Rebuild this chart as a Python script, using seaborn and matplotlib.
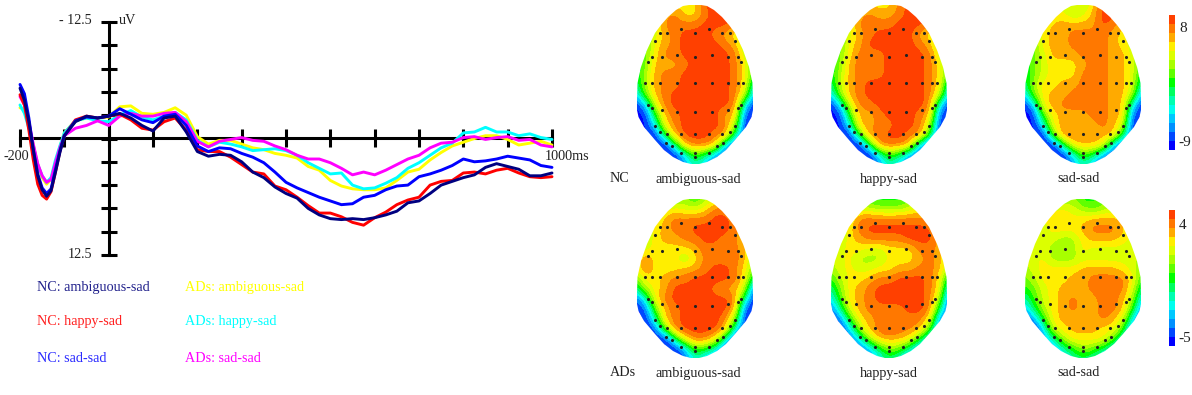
import numpy as np
import pandas as pd
import seaborn as sns
import matplotlib
matplotlib.use("Agg")
import matplotlib.pyplot as plt
from matplotlib.colors import ListedColormap
from matplotlib.patches import Polygon

W, H = 1192, 395

# ERP curves, time in ms and amplitude in uV
times = [-200, -190, -180, -170, -160, -150, -140, -130, -120, -110, -100,
         -75, -50, -25, 0, 25, 50, 75, 100, 125, 150, 175, 200, 225, 250, 275,
         300, 325, 350, 375, 400, 425, 450, 475, 500, 525, 550, 575, 600, 625,
         650, 675, 700, 725, 750, 775, 800, 825, 850, 875, 900, 925, 950, 975, 1000]

nc_ambiguous = [-5.4, -4.1, -1.8, 1.2, 4.0, 5.5, 6.2, 5.6, 3.6, 1.5, -0.3,
                -1.8, -2.4, -2.2, -2.4, -2.7, -2.2, -1.4, -0.8, -2.2, -2.4, -0.7, 1.4, 1.9, 1.7, 1.8,
                2.5, 3.6, 4.2, 5.2, 5.9, 6.4, 7.5, 8.2, 8.6, 8.7, 8.6, 8.7, 8.5, 8.2,
                7.8, 6.9, 6.7, 5.9, 5.0, 4.6, 4.2, 3.9, 3.1, 2.7, 3.0, 3.3, 4.0, 4.0, 3.7]
nc_happy = [-4.7, -3.6, -0.9, 2.3, 4.9, 6.1, 6.5, 5.7, 3.6, 1.4, -0.3,
            -2.0, -2.4, -2.2, -2.4, -2.6, -2.0, -1.1, -0.9, -1.8, -2.2, -0.9, 1.2, 1.4, 1.4, 2.0,
            2.8, 3.6, 3.8, 5.1, 5.5, 6.3, 7.2, 8.0, 8.0, 8.4, 9.0, 9.3, 8.5, 7.9,
            7.1, 6.6, 6.3, 5.0, 4.6, 4.5, 3.7, 3.6, 3.8, 3.4, 3.2, 3.7, 4.1, 4.2, 4.1]
nc_sad = [-5.8, -4.8, -2.2, 1.2, 3.8, 5.3, 5.9, 5.4, 3.3, 1.3, -0.3,
          -1.9, -2.3, -2.2, -2.4, -3.2, -2.6, -2.0, -1.7, -2.4, -2.6, -1.4, 0.8, 1.4, 1.0, 1.1,
          1.6, 2.0, 2.6, 3.6, 4.7, 5.3, 5.8, 6.3, 6.7, 7.1, 7.0, 6.3, 6.1, 5.5,
          5.1, 5.0, 4.1, 3.8, 3.4, 2.9, 2.2, 2.5, 2.4, 2.2, 1.9, 2.1, 2.3, 2.9, 3.1]
ad_ambiguous = [-3.3, -3.1, -1.5, 0.7, 2.8, 4.2, 4.9, 4.4, 2.6, 0.9, -0.6,
                -1.9, -2.2, -2.2, -2.3, -3.4, -3.5, -2.7, -2.6, -2.8, -3.3, -2.5, -0.2, 0.6, 0.2, 0.2,
                0.6, 1.0, 1.2, 1.6, 1.8, 2.1, 3.0, 3.4, 4.5, 5.1, 5.4, 5.5, 5.5, 5.3,
                4.5, 3.6, 3.3, 2.3, 1.5, 0.8, 0.4, 0.0, -0.3, -0.3, 0.1, 0.7, 0.5, 0.3, 0.7]
ad_happy = [-3.6, -2.7, -1.1, 0.8, 2.8, 4.0, 4.7, 4.2, 2.3, 0.8, -0.6,
            -1.9, -2.2, -1.9, -1.8, -2.5, -3.0, -2.3, -2.0, -2.4, -2.8, -2.0, 0.2, 0.9, 0.4, 0.6,
            0.9, 1.3, 1.2, 1.1, 1.3, 1.8, 2.6, 3.2, 3.8, 3.7, 5.0, 5.4, 5.3, 4.8,
            4.2, 3.2, 2.6, 1.8, 1.0, 0.5, -0.6, -0.7, -1.2, -0.7, -0.7, -0.3, -0.5, -0.1, 0.1]
ad_sad = [-4.5, -3.6, -1.8, 0.6, 2.7, 4.0, 4.7, 4.4, 2.6, 1.0, -0.3,
          -1.1, -1.4, -1.9, -1.4, -2.4, -2.7, -2.4, -2.4, -2.7, -2.8, -1.8, 0.3, 0.9, 0.3, 0.1,
          -0.1, 0.2, 0.3, 0.8, 1.2, 1.8, 2.2, 2.2, 2.6, 3.2, 3.9, 3.6, 3.9, 3.4,
          2.8, 2.2, 1.8, 1.0, 0.5, 0.4, -0.1, -0.2, 0.1, -0.1, -0.2, 0.2, 0.1, 0.7, 0.9]

series_names = ["ADs: ambiguous-sad", "ADs: happy-sad", "ADs: sad-sad",
                "NC: happy-sad", "NC: sad-sad", "NC: ambiguous-sad"]
series_values = [ad_ambiguous, ad_happy, ad_sad, nc_happy, nc_sad, nc_ambiguous]
line_colors = ["#ffff00", "#00ffff", "#ff00ff", "#ff0000", "#0000ff", "#000080"]

# scalp maps: colour band (0 = most negative, 14 = most positive) on a 13 x 17 grid
map_nc_ambiguous = [
    [11, 11, 11, 11, 11, 11, 11, 14, 14, 14, 13, 13, 13],
    [10, 10, 10, 12, 13, 11, 11, 13, 14, 14, 14, 13, 12],
    [9, 9, 10, 13, 13, 13, 13, 14, 14, 14, 13, 11, 10],
    [8, 8, 10, 12, 13, 14, 14, 14, 13, 12, 11, 9, 7],
    [7, 7, 11, 12, 13, 14, 14, 14, 14, 13, 12, 9, 7],
    [7, 8, 11, 13, 13, 14, 14, 14, 14, 14, 13, 10, 7],
    [6, 8, 12, 12, 12, 13, 14, 14, 14, 14, 13, 11, 7],
    [6, 9, 12, 13, 13, 14, 14, 14, 14, 14, 13, 11, 7],
    [5, 9, 12, 13, 13, 14, 14, 14, 14, 14, 13, 11, 4],
    [3, 8, 12, 13, 14, 14, 14, 14, 14, 14, 13, 10, 2],
    [0, 3, 10, 13, 14, 14, 14, 14, 14, 14, 13, 4, 0],
    [0, 0, 7, 12, 13, 14, 14, 14, 14, 12, 12, 1, 0],
    [0, 0, 4, 11, 13, 14, 14, 14, 14, 13, 10, 0, 0],
    [0, 0, 0, 7, 12, 14, 14, 14, 13, 13, 6, 0, 0],
    [0, 0, 0, 0, 6, 12, 13, 13, 12, 4, 0, 0, 0],
    [0, 0, 0, 0, 0, 4, 8, 6, 3, 0, 0, 0, 0],
    [0, 0, 0, 0, 0, 2, 5, 3, 0, 0, 0, 0, 0],
]
map_nc_happy = [
    [11, 11, 11, 11, 11, 11, 11, 13, 14, 14, 14, 13, 13],
    [10, 10, 10, 12, 13, 12, 12, 13, 14, 14, 14, 13, 12],
    [9, 9, 10, 13, 13, 13, 13, 14, 14, 14, 13, 11, 10],
    [8, 8, 10, 12, 13, 14, 14, 14, 14, 12, 11, 9, 7],
    [7, 7, 11, 12, 14, 14, 14, 14, 14, 13, 12, 9, 7],
    [7, 8, 11, 13, 13, 13, 14, 14, 14, 14, 13, 10, 7],
    [6, 8, 12, 13, 13, 13, 14, 14, 14, 14, 13, 11, 7],
    [6, 9, 12, 13, 13, 13, 14, 14, 14, 14, 13, 11, 7],
    [5, 9, 12, 13, 14, 14, 14, 14, 14, 14, 13, 11, 4],
    [3, 8, 12, 13, 14, 14, 14, 14, 14, 14, 13, 10, 2],
    [0, 3, 10, 13, 13, 14, 14, 14, 14, 14, 13, 4, 0],
    [0, 0, 7, 12, 12, 13, 14, 14, 14, 13, 12, 1, 0],
    [0, 0, 4, 12, 12, 13, 13, 14, 14, 13, 10, 0, 0],
    [0, 0, 0, 7, 13, 13, 14, 14, 13, 13, 7, 0, 0],
    [0, 0, 0, 0, 6, 13, 13, 13, 12, 4, 0, 0, 0],
    [0, 0, 0, 0, 0, 4, 8, 6, 3, 0, 0, 0, 0],
    [0, 0, 0, 0, 0, 2, 5, 3, 0, 0, 0, 0, 0],
]
map_nc_sad = [
    [10, 10, 10, 10, 10, 10, 9, 11, 14, 14, 13, 12, 11],
    [9, 9, 9, 10, 11, 9, 10, 12, 14, 14, 12, 11, 10],
    [8, 8, 10, 12, 12, 12, 12, 12, 14, 13, 12, 10, 8],
    [8, 8, 11, 12, 12, 13, 13, 13, 13, 12, 11, 9, 7],
    [7, 8, 11, 12, 12, 13, 13, 14, 13, 12, 11, 10, 7],
    [7, 8, 10, 12, 12, 12, 13, 13, 13, 12, 12, 10, 7],
    [6, 8, 10, 11, 11, 11, 12, 13, 13, 12, 12, 10, 7],
    [6, 8, 10, 11, 11, 11, 13, 13, 13, 12, 12, 10, 6],
    [5, 9, 11, 11, 12, 12, 13, 13, 13, 12, 12, 10, 4],
    [3, 8, 11, 12, 12, 13, 13, 13, 13, 12, 12, 9, 2],
    [0, 3, 11, 12, 13, 13, 13, 13, 13, 12, 12, 4, 0],
    [0, 0, 8, 11, 12, 12, 12, 13, 13, 12, 12, 1, 0],
    [0, 0, 4, 11, 12, 12, 12, 12, 13, 12, 10, 0, 0],
    [0, 0, 0, 8, 13, 13, 12, 12, 12, 12, 7, 0, 0],
    [0, 0, 0, 0, 6, 11, 12, 12, 11, 4, 0, 0, 0],
    [0, 0, 0, 0, 0, 4, 8, 6, 3, 0, 0, 0, 0],
    [0, 0, 0, 0, 0, 2, 5, 3, 0, 0, 0, 0, 0],
]
map_ad_ambiguous = [
    [8, 8, 8, 8, 8, 9, 7, 9, 10, 11, 11, 10, 10],
    [9, 9, 9, 10, 11, 10, 10, 11, 13, 13, 12, 11, 10],
    [9, 9, 10, 12, 13, 13, 13, 13, 14, 14, 13, 11, 10],
    [9, 9, 11, 12, 13, 13, 14, 14, 14, 14, 13, 11, 10],
    [9, 9, 11, 12, 12, 13, 13, 14, 14, 13, 13, 11, 9],
    [9, 10, 11, 11, 11, 11, 12, 13, 13, 12, 13, 12, 9],
    [10, 13, 11, 11, 11, 9, 11, 13, 13, 13, 13, 12, 8],
    [10, 13, 11, 11, 11, 12, 12, 13, 14, 14, 13, 11, 8],
    [8, 11, 11, 12, 13, 13, 14, 14, 14, 14, 13, 11, 5],
    [5, 9, 11, 12, 14, 14, 14, 14, 13, 12, 12, 10, 0],
    [1, 4, 11, 13, 14, 14, 14, 14, 14, 14, 13, 5, 0],
    [0, 1, 8, 12, 13, 14, 14, 14, 14, 14, 12, 1, 0],
    [0, 0, 5, 12, 13, 14, 14, 14, 14, 13, 9, 0, 0],
    [0, 0, 1, 8, 13, 14, 14, 14, 14, 12, 5, 0, 0],
    [0, 0, 0, 0, 6, 11, 13, 13, 11, 6, 0, 0, 0],
    [0, 0, 0, 0, 0, 3, 8, 7, 5, 0, 0, 0, 0],
    [0, 0, 0, 0, 0, 1, 5, 3, 1, 0, 0, 0, 0],
]
map_ad_happy = [
    [8, 8, 8, 8, 7, 7, 7, 7, 8, 8, 9, 9, 9],
    [9, 9, 9, 10, 10, 9, 9, 9, 10, 11, 11, 10, 9],
    [9, 9, 10, 13, 13, 13, 13, 13, 13, 13, 12, 11, 10],
    [9, 9, 11, 13, 14, 14, 14, 14, 14, 14, 14, 11, 10],
    [9, 9, 11, 12, 13, 13, 13, 13, 14, 14, 14, 12, 10],
    [9, 10, 11, 11, 10, 10, 11, 11, 11, 13, 13, 12, 9],
    [9, 10, 11, 9, 9, 9, 11, 11, 11, 12, 13, 12, 9],
    [9, 10, 11, 10, 10, 11, 11, 12, 12, 13, 13, 12, 9],
    [7, 9, 11, 11, 12, 13, 13, 14, 14, 14, 13, 11, 5],
    [5, 8, 11, 12, 13, 14, 14, 14, 14, 14, 13, 11, 2],
    [3, 7, 11, 12, 13, 14, 14, 14, 14, 14, 13, 9, 0],
    [1, 5, 10, 12, 13, 13, 13, 13, 14, 14, 13, 6, 0],
    [0, 1, 7, 11, 12, 13, 13, 13, 13, 13, 11, 2, 0],
    [0, 0, 3, 9, 12, 13, 14, 13, 13, 12, 8, 1, 0],
    [0, 0, 1, 4, 9, 12, 12, 12, 11, 7, 3, 0, 0],
    [0, 0, 0, 1, 3, 6, 9, 8, 5, 2, 1, 0, 0],
    [0, 0, 0, 0, 2, 4, 6, 4, 2, 1, 0, 0, 0],
]
map_ad_sad = [
    [8, 8, 8, 8, 8, 9, 7, 7, 8, 8, 9, 9, 9],
    [9, 9, 9, 10, 11, 10, 9, 8, 9, 10, 10, 10, 9],
    [9, 9, 10, 12, 11, 11, 11, 12, 12, 12, 11, 10, 10],
    [9, 9, 10, 11, 11, 11, 12, 13, 13, 13, 12, 10, 9],
    [9, 9, 10, 10, 9, 9, 11, 12, 12, 12, 11, 10, 9],
    [9, 10, 10, 9, 8, 9, 11, 10, 10, 10, 10, 10, 9],
    [9, 10, 11, 9, 9, 9, 10, 10, 10, 10, 10, 10, 9],
    [9, 10, 11, 11, 11, 11, 12, 12, 12, 12, 11, 10, 8],
    [8, 9, 11, 11, 11, 12, 12, 13, 13, 13, 13, 11, 7],
    [7, 8, 10, 11, 12, 12, 12, 13, 13, 13, 13, 10, 5],
    [5, 7, 10, 11, 12, 13, 12, 12, 13, 13, 12, 9, 3],
    [2, 6, 9, 11, 12, 13, 12, 12, 13, 13, 12, 7, 1],
    [0, 2, 7, 11, 12, 12, 12, 12, 13, 12, 10, 4, 0],
    [0, 0, 3, 10, 11, 12, 12, 12, 11, 11, 8, 1, 0],
    [0, 0, 2, 5, 9, 11, 11, 11, 11, 8, 4, 1, 0],
    [0, 0, 0, 2, 5, 7, 9, 8, 6, 4, 1, 0, 0],
    [0, 0, 0, 1, 3, 5, 6, 5, 3, 1, 0, 0, 0],
]

band_colors = ["#0000ff", "#0048ff", "#0090ff", "#00c8ff", "#00ffee", "#00ffb0",
               "#00ff60", "#00ff00", "#60ff00", "#a8ff00", "#dcff00", "#ffee00",
               "#ffaa00", "#ff7800", "#ff4000"]
scale_bands = list(range(14, -1, -1))

# head outline and electrode sites, px from the top centre of a head
outline_dy = [0, 1, 5, 12, 20, 28, 45, 62, 78, 95, 105, 112, 122, 135, 145, 152, 157, 159]
outline_half = [6, 12, 19, 27, 34, 40, 48, 54, 57.5, 58, 58, 56.5, 51, 40, 31, 22, 12, 4]
site_dx = [-14, 14, 0, -35, -28, 27, 35, -40, 40, -18, 17, 0, -33, 33, -43, 43, -47, 46,
           -50, -43, -35, -18, 0, 17, 33, 43, 48, -47, 46, -43, 43, -33, 33, -18, 0, 17,
           -40, 40, -35, 35, -28, -14, 0, 14, 27, -29, 28, -23, 22, -14, 0, 14, 0]
site_dy = [24, 24, 28, 28, 28, 28, 28, 36, 36, 50, 50, 52, 52, 52, 52, 52, 57, 57,
           78, 78, 78, 78, 78, 78, 78, 78, 78, 100, 100, 103, 103, 105, 105, 107, 107, 107,
           121, 121, 127, 127, 129, 129, 129, 129, 129, 138, 138, 141, 141, 148, 148, 148, 152]

sns.set_theme(style="white")
plt.rcParams['font.family'] = ['Liberation Serif', 'DejaVu Serif']

fig = plt.figure(figsize=(W / 100, H / 100), dpi=100)


def px_axes(x0, y0, x1, y1):
    return fig.add_axes([x0 / W, 1 - y1 / H, (x1 - x0) / W, (y1 - y0) / H])


def px_text(x, y, s, color="#222222", size=10.2, ha="left"):
    fig.text(x / W, 1 - y / H, s, color=color, fontsize=size, ha=ha, va="center")


# left panel
ax = px_axes(20, 22, 552, 255)
df = pd.concat([pd.DataFrame({"time": times, "uV": v, "group": n})
                for n, v in zip(series_names, series_values)])
sns.lineplot(data=df, x="time", y="uV", hue="group", hue_order=series_names,
             palette=line_colors, linewidth=2.1, legend=False, ax=ax, zorder=3, clip_on=False)
ax.set_xlim(-200, 1000)
ax.set_ylim(12.5, -12.5)
ax.set_xticks(np.arange(-200, 1001, 100))
ax.set_yticks(np.arange(-12.5, 12.6, 2.5))
ax.tick_params(axis="x", length=13, width=2.2, direction="inout", color="black",
               labelbottom=False, bottom=True, pad=0)
ax.tick_params(axis="y", length=11.5, width=2.2, direction="inout", color="black",
               labelleft=False, left=True, pad=0)
for name in ["top", "right"]:
    ax.spines[name].set_visible(False)
ax.spines["left"].set_position(("data", 0))
ax.spines["bottom"].set_position(("data", -0.1))
ax.spines["left"].set_linewidth(2.2)
ax.spines["bottom"].set_linewidth(2.2)
ax.spines["left"].set_color("black")
ax.spines["bottom"].set_color("black")
ax.set_xlabel("")
ax.set_ylabel("")
ax.patch.set_alpha(0)

px_text(92, 21, "- 12.5", ha="right")
px_text(92, 254, "12.5", ha="right")
px_text(119, 20, "uV")
px_text(3, 157, "-200")
px_text(545, 156, "1000ms")

legend_left = ["NC: ambiguous-sad", "NC: happy-sad", "NC: sad-sad"]
legend_right = ["ADs: ambiguous-sad", "ADs: happy-sad", "ADs: sad-sad"]
legend_left_colors = ["#22228c", "#ff2020", "#2a2aff"]
legend_right_colors = ["#ffff00", "#00ffff", "#ff00ff"]
for yy, a, b, ca, cb in zip([287, 322, 359], legend_left, legend_right,
                            legend_left_colors, legend_right_colors):
    px_text(37, yy, a, color=ca)
    px_text(185, yy, b, color=cb)

# scalp maps
band_map = ListedColormap(band_colors)
outline = list(zip(outline_half, outline_dy)) + [(-h, d) for h, d in zip(outline_half[::-1], outline_dy[::-1])]

rows = [(5, [map_nc_ambiguous, map_nc_happy, map_nc_sad]),
        (199, [map_ad_ambiguous, map_ad_happy, map_ad_sad])]
centers = [695, 889, 1083]
for top, maps in rows:
    for cx, values in zip(centers, maps):
        hax = px_axes(cx - 62, top - 3, cx + 62, top + 163)
        img = hax.imshow(np.array(values, dtype=float), cmap=band_map, vmin=-0.5, vmax=14.5,
                         extent=(-65, 65, 165, -5), aspect="auto", interpolation="bicubic",
                         interpolation_stage="data")
        img.set_clip_path(Polygon(outline, transform=hax.transData))
        sns.scatterplot(x=site_dx, y=site_dy, color="#222222", s=5, linewidth=0, ax=hax)
        hax.set_xlim(-62, 62)
        hax.set_ylim(163, -3)
        hax.axis("off")

# colour scales
for y0, y1, top_label, bottom_label, y_top, y_bottom in [(15, 150, "8", "-9", 29, 143),
                                                         (210, 346, "4", "-5", 225, 338)]:
    bar_ax = px_axes(1169, y0, 1175, y1)
    sns.heatmap(np.array(scale_bands).reshape(-1, 1), cmap=band_map, vmin=-0.5, vmax=14.5,
                cbar=False, xticklabels=False, yticklabels=False, ax=bar_ax)
    px_text(1179, y_top, top_label, size=11)
    px_text(1178, y_bottom, bottom_label, size=11)

for yy, group in [(179, "NC"), (373, "ADs")]:
    px_text(610, yy, group)
    px_text(656, yy, "ambiguous-sad")
    px_text(860, yy, "happy-sad")
    px_text(1057, yy, "sad-sad")

fig.savefig("out.png", dpi=100)
